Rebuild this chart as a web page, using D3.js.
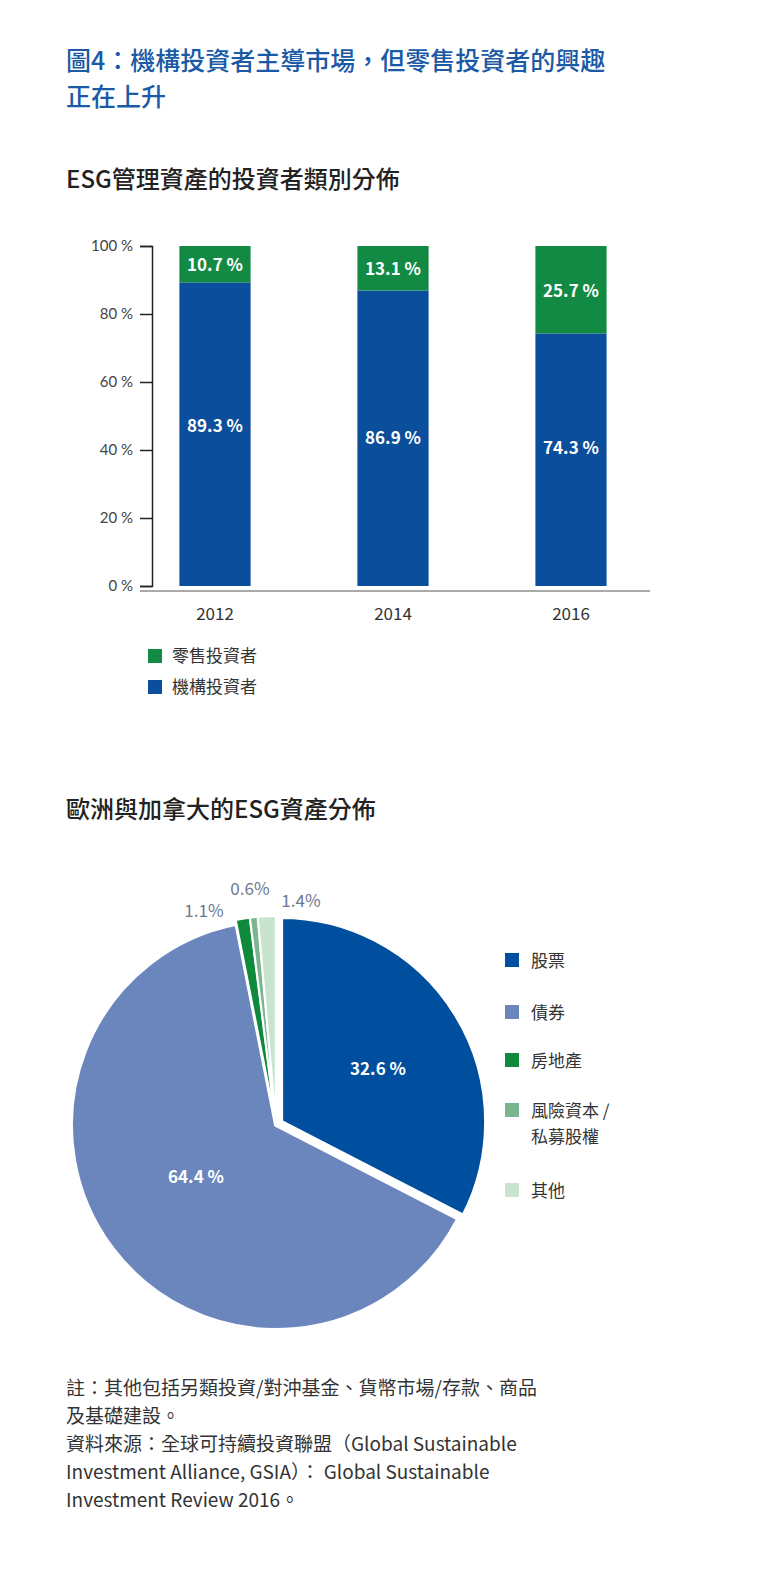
<!DOCTYPE html><html><head><meta charset="utf-8"><script src="https://cdn.jsdelivr.net/npm/d3@7"></script>
<style>body{margin:0;background:#fff;font-family:"Noto Sans CJK TC","Noto Sans",sans-serif}</style></head><body><svg id="c" width="760" height="1592"></svg><script>
const years=["2012","2014","2016"];
const institutional=[89.3,86.9,74.3];
const retail=[10.7,13.1,25.7];
const yTicks=[0,20,40,60,80,100];
const barLegend=["零售投資者","機構投資者"];
const assetNames=["股票","債券","房地產","風險資本 /\n私募股權","其他"];
const assetValues=[32.6,64.4,1.1,0.6,1.4];
const assetColors=["#004f9e","#6a86bd","#0f8a3c","#7bb58f","#c8e4cf"];
const navy="#0b4f9c",green="#138a43";
const svg=d3.select("#c");
const t=(x,y,s,o={})=>svg.append("text").attr("x",x).attr("y",y).text(s).attr("font-size",o.size||20).attr("fill",o.fill||"#222").attr("text-anchor",o.anchor||"start").attr("font-weight",o.weight||400);
t(66,70,"圖4：機構投資者主導市場，但零售投資者的興趣",{size:25,fill:"#1a5aa6",weight:500});
t(66,106,"正在上升",{size:25,fill:"#1a5aa6",weight:500});
t(66,188,"ESG管理資產的投資者類別分佈",{size:24,fill:"#222",weight:500});
const y=d3.scaleLinear().domain([0,100]).range([586,246]);
const x=d3.scaleBand().domain(years).range([126,660]).paddingInner(0.6).paddingOuter(0.3);
const ax=svg.append("g").attr("transform","translate(152,0)").call(d3.axisLeft(y).tickValues(yTicks).tickSize(12).tickFormat(d=>d+" %"));
ax.select(".domain").attr("stroke","#222").attr("stroke-width",1.5);
ax.selectAll("line").attr("stroke","#222").attr("stroke-width",1.5);
ax.selectAll("text").attr("font-size",15).attr("fill","#444").attr("font-family","Lato,sans-serif").attr("dx",-4);
svg.append("line").attr("x1",140).attr("x2",650).attr("y1",591).attr("y2",591).attr("stroke","#555");
years.forEach((yr,i)=>{
 const bx=x(yr),bw=x.bandwidth();
 svg.append("rect").attr("x",bx).attr("width",bw).attr("y",y(institutional[i])).attr("height",y(0)-y(institutional[i])).attr("fill",navy);
 svg.append("rect").attr("x",bx).attr("width",bw).attr("y",y(100)).attr("height",y(100-retail[i])-y(100)).attr("fill",green);
 const lbl=(v)=>v.toFixed(1)+" %";
 t(bx+bw/2,y(100)+ (y(100-retail[i])-y(100))/2+7,lbl(retail[i]),{size:17,fill:"#fff",anchor:"middle",weight:700});
 t(bx+bw/2,[432,444,454][i],lbl(institutional[i]),{size:17,fill:"#fff",anchor:"middle",weight:700});
 t(bx+bw/2,620,yr,{size:17,fill:"#333",anchor:"middle"});
});
[[green,barLegend[0],661],[navy,barLegend[1],692]].forEach(([c,s,yy])=>{svg.append("rect").attr("x",148).attr("y",yy-12).attr("width",14).attr("height",14).attr("fill",c);t(172,yy+1,s,{size:17,fill:"#333"});});
t(66,818,"歐洲與加拿大的ESG資產分佈",{size:24,fill:"#222",weight:500});
const cx=276,cy=1125,R=205;
const pie=d3.pie().sort(null).value(d=>d)(assetValues);
const arc=d3.arc().innerRadius(0).outerRadius(R);
const g=svg.append("g").attr("transform",`translate(${cx},${cy})`);
pie.forEach((p,i)=>{
 const m=(p.startAngle+p.endAngle)/2, off=i==0?6:(i>=2?4:0);
 g.append("path").attr("d",arc(p)).attr("fill",assetColors[i]).attr("stroke","#fff").attr("stroke-width",i>=2?2:4)
  .attr("transform",`translate(${Math.sin(m)*off},${-Math.cos(m)*off})`);
});
t(378,1075,"32.6 %",{size:17,fill:"#fff",anchor:"middle",weight:700});
t(196,1183,"64.4 %",{size:17,fill:"#fff",anchor:"middle",weight:700});
t(204,917,"1.1%",{size:17,fill:"#6d7890",anchor:"middle"});
t(250,895,"0.6%",{size:17,fill:"#6d7890",anchor:"middle"});
t(301,907,"1.4%",{size:17,fill:"#6d7890",anchor:"middle"});
const ly=[966,1018,1066,1116,1196];
assetNames.forEach((n,i)=>{
 svg.append("rect").attr("x",505).attr("y",ly[i]-13).attr("width",14).attr("height",14).attr("fill",assetColors[i]);
 n.split("\n").forEach((l,j)=>t(531,ly[i]+1+j*26,l,{size:17,fill:"#333"}));
});
const foot=["註：其他包括另類投資/對沖基金、貨幣市場/存款、商品","及基礎建設。","資料來源：全球可持續投資聯盟（Global Sustainable","Investment  Alliance, GSIA）： Global Sustainable","Investment Review 2016。"];
foot.forEach((s,i)=>t(66,1395+i*28,s,{size:19,fill:"#333"}));
</script></body></html>
